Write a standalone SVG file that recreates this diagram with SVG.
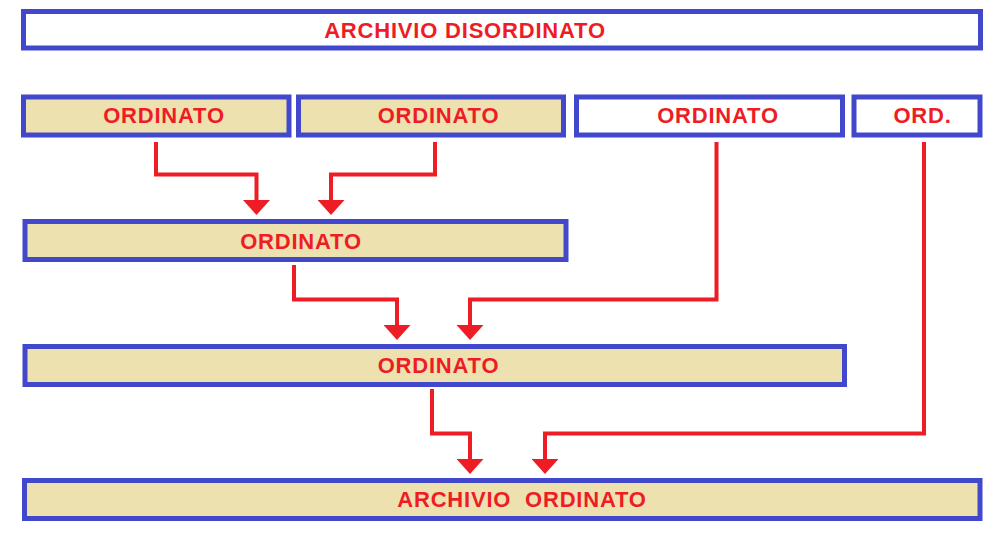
<svg xmlns="http://www.w3.org/2000/svg" width="997" height="533" viewBox="0 0 997 533">
<style>
.box{stroke:#4248cc;stroke-width:5;}
.w{fill:#ffffff;}
.b{fill:#ede1b0;}
.t{font-family:"Liberation Sans",Arial,sans-serif;font-weight:bold;font-size:22px;letter-spacing:0.8px;fill:#ee1c25;text-anchor:middle;}
.c{fill:none;stroke:#ee1c25;stroke-width:4;}
</style>
<defs>
<marker id="ah" markerUnits="userSpaceOnUse" viewBox="0 0 15 27" markerWidth="15" markerHeight="27" refX="0" refY="13.5" orient="auto">
<path d="M0,0 L15,13.5 L0,27 z" fill="#ee1c25"/>
</marker>
</defs>
<g id="archivio-disordinato">
<rect class="box w" x="23.5" y="11.5" width="957" height="36.5"/>
<text class="t" x="465" y="38">ARCHIVIO DISORDINATO</text>
</g>
<g id="ord1">
<rect class="box b" x="23.5" y="97" width="265.5" height="38"/>
<text class="t" x="164" y="123">ORDINATO</text>
</g>
<g id="ord2">
<rect class="box b" x="298.5" y="97" width="265" height="38"/>
<text class="t" x="438.5" y="123">ORDINATO</text>
</g>
<g id="ord3">
<rect class="box w" x="576.5" y="97" width="266" height="38"/>
<text class="t" x="718" y="123">ORDINATO</text>
</g>
<g id="ord4">
<rect class="box w" x="854" y="97" width="126" height="38"/>
<text class="t" x="922.5" y="123">ORD.</text>
</g>
<g id="merge1">
<rect class="box b" x="25" y="221.5" width="541" height="38"/>
<text class="t" x="301" y="249">ORDINATO</text>
</g>
<g id="merge2">
<rect class="box b" x="25" y="346.5" width="819.5" height="38"/>
<text class="t" x="438.5" y="373">ORDINATO</text>
</g>
<g id="archivio-ordinato">
<rect class="box b" x="24.5" y="480.5" width="955.5" height="38"/>
<text class="t" x="522" y="507" xml:space="preserve">ARCHIVIO  ORDINATO</text>
</g>
<g id="connectors">
<path class="c" d="M156,142 V174.5 H256.5 V200" marker-end="url(#ah)"/>
<path class="c" d="M435,142 V174.5 H331 V200" marker-end="url(#ah)"/>
<path class="c" d="M294,265 V299.5 H397 V325" marker-end="url(#ah)"/>
<path class="c" d="M716.5,142 V299.5 H470 V325" marker-end="url(#ah)"/>
<path class="c" d="M432,389 V433.5 H470 V459" marker-end="url(#ah)"/>
<path class="c" d="M924,142 V433.5 H545 V459" marker-end="url(#ah)"/>
</g>
</svg>
